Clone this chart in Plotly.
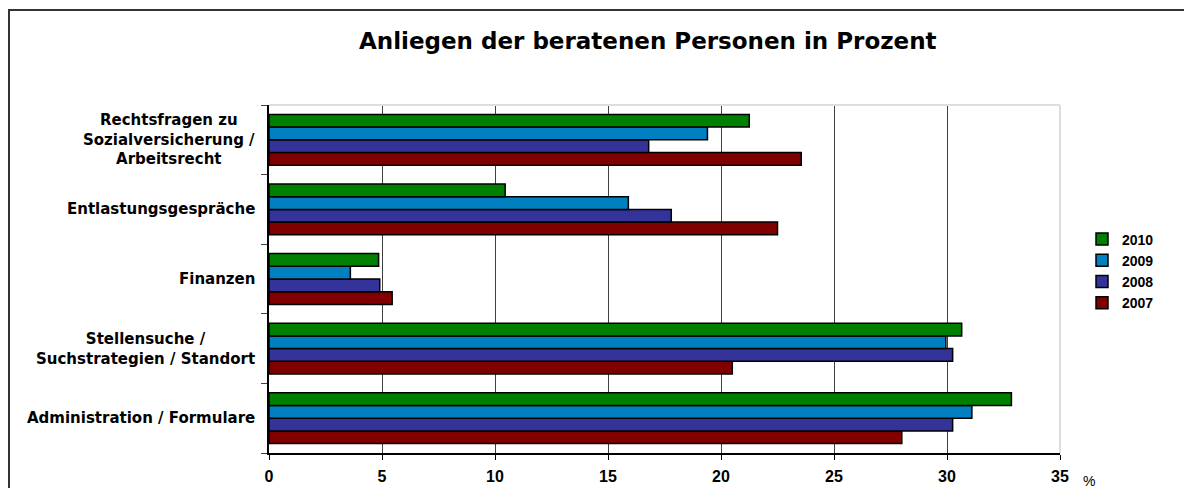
import plotly.graph_objects as go

categories = [
    "Administration / Formulare",
    "Stellensuche / Suchstrategien / Standort",
    "Finanzen",
    "Entlastungsgespräche",
    "Rechtsfragen zu Sozialversicherung / Arbeitsrecht",
]
category_labels = [
    "Administration / Formulare",
    "Stellensuche /<br>Suchstrategien / Standort",
    "Finanzen",
    "Entlastungsgespräche",
    "Rechtsfragen zu<br>Sozialversicherung /<br>Arbeitsrecht",
]
years = ["2007", "2008", "2009", "2010"]
values_2007 = [28.0, 20.5, 5.45, 22.5, 23.55]
values_2008 = [30.25, 30.25, 4.9, 17.8, 16.8]
values_2009 = [31.1, 29.95, 3.6, 15.9, 19.4]
values_2010 = [32.85, 30.65, 4.85, 10.45, 21.25]
colors = ["#800000", "#333399", "#0080C0", "#008000"]
x_ticks = [0, 5, 10, 15, 20, 25, 30, 35]

series = [values_2007, values_2008, values_2009, values_2010]

FONT = "DejaVu Sans, Liberation Sans, Arial, sans-serif"
NUMFONT = "Liberation Sans, Arial, Helvetica, sans-serif"

# plot area in reference (viewport) pixels: x 269..1060, y 105..453
def px(x):
    return (x - 269) / 791

def py(y):
    return (453 - y) / 348

fig = go.Figure()
for year, vals, col in zip(years, series, colors):
    fig.add_trace(go.Bar(
        y=categories, x=vals, name=year, orientation="h",
        marker=dict(color=col, line=dict(color="#000000", width=1.5)),
    ))

fig.update_layout(
    width=1192, height=488,
    margin=dict(l=261, r=140, t=97, b=43, autoexpand=False),
    paper_bgcolor="white", plot_bgcolor="white",
    barmode="group", bargap=0.27, bargroupgap=0,
    font=dict(family=FONT, size=13, color="#000000"),
    showlegend=True,
    legend=dict(
        traceorder="reversed", x=px(1082), y=py(271), xanchor="left", yanchor="middle",
        font=dict(family=NUMFONT, size=14, color="#000000", weight="bold"),
        itemwidth=30, tracegroupgap=0, bgcolor="rgba(0,0,0,0)",
    ),
)

fig.update_xaxes(
    range=[0, 35], tickvals=x_ticks, ticktext=[str(t) for t in x_ticks],
    showgrid=True, gridcolor="#404040", gridwidth=1,
    showline=True, linecolor="#000000", linewidth=1.5,
    ticks="outside", ticklen=5, tickcolor="#000000",
    tickfont=dict(family=NUMFONT, size=16, weight="bold"),
    ticklabelstandoff=3, automargin=False,
    zeroline=False, fixedrange=True,
)
fig.update_yaxes(
    type="category", categoryorder="array", categoryarray=categories,
    showticklabels=False, tickson="boundaries", automargin=False,
    ticks="outside", ticklen=6, tickcolor="#404040",
    showline=True, linecolor="#000000", linewidth=1.5,
    showgrid=False, fixedrange=True,
)

# light gray top/right plot frame
fig.add_shape(type="line", xref="paper", yref="paper", x0=0, x1=1, y0=1, y1=1,
              line=dict(color="#dddddd", width=2))
fig.add_shape(type="line", xref="paper", yref="paper", x0=1, x1=1, y0=0, y1=1,
              line=dict(color="#dddddd", width=2))
# outer chart border
fig.add_shape(type="rect", xref="paper", yref="paper",
              x0=px(9), x1=px(1230), y0=py(520), y1=py(10),
              line=dict(color="#333333", width=2), layer="above")

for cat, lab in zip(categories, category_labels):
    fig.add_annotation(
        x=px(257), xref="paper", y=cat, yref="y",
        text=lab, showarrow=False, xanchor="right", yanchor="middle", align="center",
        font=dict(family=FONT, size=15, color="#000000", weight="bold"),
    )

fig.add_annotation(
    x=px(648), xref="paper", y=py(41), yref="paper",
    text="Anliegen der beratenen Personen in Prozent", showarrow=False,
    xanchor="center", yanchor="middle",
    font=dict(family=FONT, size=23, color="#000000", weight="bold"),
)
fig.add_annotation(
    x=px(1089), xref="paper", y=py(481), yref="paper",
    text="%", showarrow=False, xanchor="center", yanchor="middle",
    font=dict(family=NUMFONT, size=14, color="#000000"),
)

fig.write_html("out.html")
